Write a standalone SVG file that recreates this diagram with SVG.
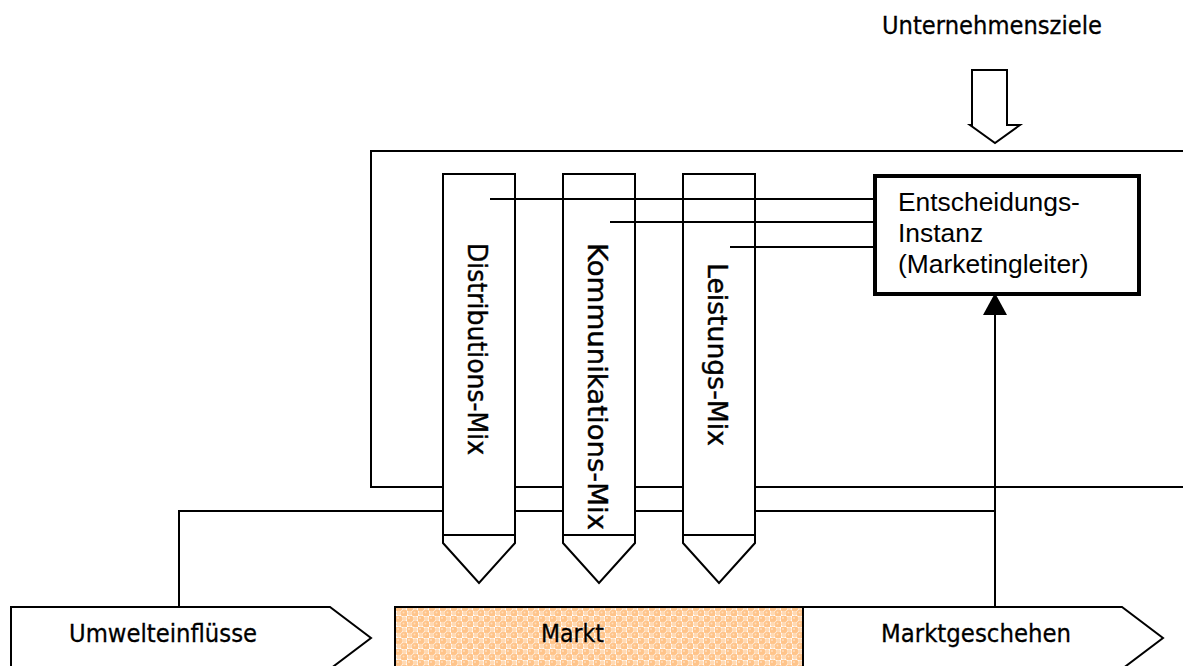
<svg xmlns="http://www.w3.org/2000/svg" width="1183" height="666" viewBox="0 0 1183 666">
  <style>
    .ln { fill: none; stroke: #000; stroke-width: 2; }
    .shape { fill: #fff; stroke: #000; stroke-width: 2; }
    .lbl { font-family: "DejaVu Sans", Verdana, sans-serif; font-size: 24.5px; fill: #000; stroke: #000; stroke-width: 0.3; }
    .box { font-family: "Liberation Sans", Arial, sans-serif; font-size: 26.4px; fill: #000; }
    .vert { font-family: "DejaVu Sans", Verdana, sans-serif; font-size: 26px; fill: #000; stroke: #000; stroke-width: 0.4; }
  </style>
  <defs>
    <pattern id="bubbles" patternUnits="userSpaceOnUse" width="11" height="11">
      <rect width="11" height="11" fill="#fff"/>
      <circle cx="2.75" cy="2.75" r="3.6" fill="#ffc48a"/>
      <circle cx="8.25" cy="8.25" r="3.6" fill="#ffc48a"/>
      <circle cx="8.25" cy="2.75" r="2.4" fill="#ffd9b3"/>
      <circle cx="2.75" cy="8.25" r="2.4" fill="#ffd9b3"/>
      <circle cx="2" cy="2" r="1" fill="#ffdfbf"/>
      <circle cx="7.5" cy="7.5" r="1" fill="#ffdfbf"/>
    </pattern>
  </defs>

  <!-- goal input -->
  <g id="ziele">
    <text class="lbl" x="882" y="34" textLength="220" lengthAdjust="spacingAndGlyphs">Unternehmensziele</text>
    <polygon class="shape" points="972,70 1007,70 1007,125 1020,125 995,143 970,125 972,125"/>
  </g>

  <!-- marketing system frame and feedback lines behind the instruments -->
  <g id="connectors-back">
    <polyline class="ln" points="1183,151 371,151 371,487 1183,487"/>
    <polyline class="ln" points="179,607 179,511 995,511"/>
  </g>

  <!-- marketing instruments -->
  <g id="distribution">
    <path class="shape" d="M443,174 H515 V543 L479,583 L443,543 Z"/>
    <line class="ln" x1="443" y1="535" x2="515" y2="535"/>
    <text class="vert" transform="translate(468,243) rotate(90)" textLength="212" lengthAdjust="spacingAndGlyphs">Distributions-Mix</text>
  </g>
  <g id="kommunikation">
    <path class="shape" d="M563,174 H635 V543 L599,583 L563,543 Z"/>
    <line class="ln" x1="563" y1="535" x2="635" y2="535"/>
    <text class="vert" transform="translate(588,243) rotate(90)" textLength="287" lengthAdjust="spacingAndGlyphs">Kommunikations-Mix</text>
  </g>
  <g id="leistung">
    <path class="shape" d="M683,174 H755 V543 L719,583 L683,543 Z"/>
    <line class="ln" x1="683" y1="535" x2="755" y2="535"/>
    <text class="vert" transform="translate(708,263) rotate(90)" textLength="183" lengthAdjust="spacingAndGlyphs">Leistungs-Mix</text>
  </g>

  <!-- decision lines and market feedback arrow -->
  <g id="connectors">
    <line class="ln" x1="490" y1="199" x2="875" y2="199"/>
    <line class="ln" x1="610" y1="222" x2="875" y2="222"/>
    <line class="ln" x1="730" y1="247" x2="875" y2="247"/>
    <line class="ln" x1="995" y1="607" x2="995" y2="314"/>
    <polygon points="995,293 1007,315 983,315" fill="#000"/>
  </g>

  <!-- decision unit -->
  <g id="instanz">
    <rect x="875" y="176" width="264" height="118" fill="#fff" stroke="#000" stroke-width="4"/>
    <text class="box" x="898" y="211">Entscheidungs-</text>
    <text class="box" x="898" y="242">Instanz</text>
    <text class="box" x="898" y="273">(Marketingleiter)</text>
  </g>

  <!-- market flow -->
  <g id="umwelt">
    <polygon class="shape" points="11,607 330,607 371,638 330,669 11,669"/>
    <text class="lbl" x="69" y="642" textLength="188" lengthAdjust="spacingAndGlyphs">Umwelteinflüsse</text>
  </g>
  <g id="markt">
    <rect x="395" y="607" width="408" height="70" fill="url(#bubbles)" stroke="#000" stroke-width="2"/>
    <text class="lbl" x="541" y="642" textLength="63" lengthAdjust="spacingAndGlyphs">Markt</text>
  </g>
  <g id="marktgeschehen">
    <polygon class="shape" points="803,607 1122,607 1163,638 1122,669 803,669"/>
    <text class="lbl" x="881" y="642" textLength="190" lengthAdjust="spacingAndGlyphs">Marktgeschehen</text>
  </g>
</svg>
